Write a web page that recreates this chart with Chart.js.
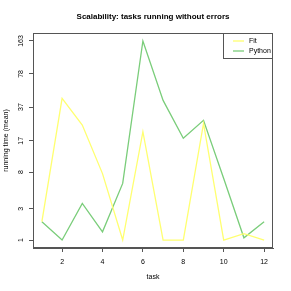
<!DOCTYPE html>
<html>
<head>
<meta charset="utf-8">
<script src="https://cdn.jsdelivr.net/npm/chart.js@4"></script>
<style>
  html, body { margin: 0; padding: 0; background: #fff; }
  #wrap { width: 291px; height: 291px; }
</style>
</head>
<body>
<div id="wrap"><canvas id="chart"></canvas></div>
<script>
// data (mean running time per task)
const tasks = [1, 2, 3, 4, 5, 6, 7, 8, 9, 10, 11, 12];
const fitTimes = [2, 45, 24.5, 7.7, 1, 21, 1, 1, 25.4, 1, 1.3, 1];
const pythonTimes = [2, 1, 3.5, 1.4, 6, 163, 43, 18, 27.3, 6.8, 1.1, 2];
const xTicks = [2, 4, 6, 8, 10, 12];
const yTickLabels = [1, 3, 8, 17, 37, 78, 163];

const seriesNames = ['Fit', 'Python'];
const seriesColors = ['#ffff70', '#7acd7a'];
const axisColor = '#555';
const font = 'Liberation Sans, Arial, Helvetica, sans-serif';

// y is drawn on log(x + 1), like the original
const toY = v => Math.log1p(v);
const yMin = toY(1), yMax = toY(163);
const yPad = (yMax - yMin) * 0.04;

// title, frame and legend drawn the R way
const rDecor = {
    id: 'rDecor',
    afterDraw(chart) {
        const ctx = chart.ctx;
        const a = chart.chartArea;
        ctx.save();

        // frame
        ctx.strokeStyle = axisColor;
        ctx.lineWidth = 1;
        ctx.strokeRect(a.left + 0.5, a.top + 0.5, a.right - a.left - 1, a.bottom - a.top - 1);

        // title
        ctx.fillStyle = '#000';
        ctx.font = 'bold 8px ' + font;
        ctx.textAlign = 'center';
        ctx.textBaseline = 'middle';
        ctx.fillText('Scalability: tasks running without errors', (a.left + a.right) / 2, 17);

        // legend
        const w = 50, h = 26;
        const lx = a.right - w, ly = a.top;
        ctx.fillStyle = '#fff';
        ctx.fillRect(lx, ly, w, h);
        ctx.strokeRect(lx + 0.5, ly + 0.5, w - 1, h - 1);
        ctx.font = '7px ' + font;
        ctx.textAlign = 'left';
        seriesNames.forEach(function(name, i) {
            const yy = ly + 8 + i * 10;
            ctx.strokeStyle = seriesColors[i];
            ctx.lineWidth = 1.3;
            ctx.beginPath();
            ctx.moveTo(lx + 10, yy);
            ctx.lineTo(lx + 21, yy);
            ctx.stroke();
            ctx.fillStyle = '#000';
            ctx.fillText(name, lx + 26, yy);
        });
        ctx.restore();
    }
};

const ctx = document.getElementById('chart');

new Chart(ctx, {
    type: 'line',
    data: {
        labels: tasks,
        datasets: [
            { label: seriesNames[0], data: fitTimes.map(toY), borderColor: seriesColors[0] },
            { label: seriesNames[1], data: pythonTimes.map(toY), borderColor: seriesColors[1] }
        ]
    },
    options: {
        responsive: true,
        maintainAspectRatio: false,
        animation: false,
        devicePixelRatio: 1,
        layout: { padding: { top: 33, right: 18, left: 0, bottom: 0 } },
        elements: {
            line: { borderWidth: 1.3, tension: 0, fill: false },
            point: { radius: 0 }
        },
        plugins: {
            legend: { display: false },
            tooltip: { enabled: false }
        },
        scales: {
            x: {
                type: 'linear',
                min: 1 - 11 * 0.04,
                max: 12 + 11 * 0.04,
                afterBuildTicks: s => { s.ticks = xTicks.map(v => ({ value: v })); },
                afterFit: s => { s.height = 43; },
                grid: { drawOnChartArea: false, tickLength: 4, color: axisColor },
                border: { color: axisColor },
                ticks: { color: '#000', font: { family: font, size: 7 }, padding: 6, autoSkip: false, maxRotation: 0 },
                title: { display: true, text: 'task', color: '#000', font: { family: font, size: 7 }, padding: { top: 0, bottom: 10 } }
            },
            y: {
                min: yMin - yPad,
                max: yMax + yPad,
                afterBuildTicks: s => { s.ticks = yTickLabels.map(v => ({ value: toY(v) })); },
                afterFit: s => { s.width = 33; },
                grid: { drawOnChartArea: false, tickLength: 4, color: axisColor },
                border: { color: axisColor },
                ticks: {
                    color: '#000',
                    font: { family: font, size: 7 },
                    padding: 2.5,
                    autoSkip: false,
                    minRotation: 90,
                    maxRotation: 90,
                    crossAlign: 'center',
                    callback: (v, i) => yTickLabels[i]
                },
                title: { display: true, text: 'running time (mean)', color: '#000', font: { family: font, size: 7 }, padding: { top: 2, bottom: 0 } }
            }
        }
    },
    plugins: [rDecor]
});
</script>
</body>
</html>
